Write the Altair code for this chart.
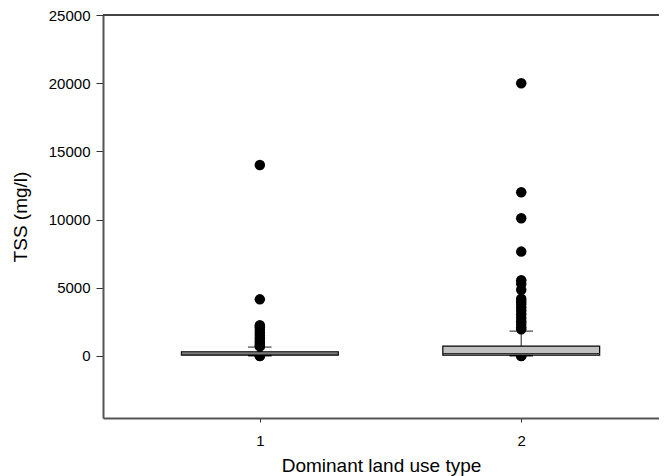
import altair as alt
import pandas as pd

groups = [1, 2]
q1 = [60, 60]
median = [130, 180]
q3 = [300, 720]
whisker_low = [20, 20]
whisker_high = [650, 1820]

outliers_1 = [14000, 4150, 2250, 2100, 1900, 1700, 1500, 1300, 1100, 950, 800, 700, 5, 2]
outliers_2 = [20000, 12000, 10100, 7650, 5550, 5300, 4850, 4200, 4000, 3800, 3550,
              3300, 3050, 2800, 2550, 2350, 2100, 1950, 5, 2]

y_ticks = [0, 5000, 10000, 15000, 20000, 25000]
x_ticks = [1, 2]

W = 556
H = 403
FONT = "Liberation Sans"

box_half = 0.3
cap_half = 0.045

boxes = pd.DataFrame({
    "g": groups, "q1": q1, "med": median, "q3": q3, "lo": whisker_low, "hi": whisker_high,
})
boxes["xl"] = boxes["g"] - box_half
boxes["xr"] = boxes["g"] + box_half
boxes["cl"] = boxes["g"] - cap_half
boxes["cr"] = boxes["g"] + cap_half

pts = pd.DataFrame({
    "g": [1] * len(outliers_1) + [2] * len(outliers_2),
    "v": outliers_1 + outliers_2,
})

xscale = alt.Scale(domain=[0.4, 0.4 + W / 261.4], nice=False, zero=False)
yscale = alt.Scale(domain=[-4550, 25000], nice=False, zero=False)

xaxis = alt.Axis(values=x_ticks, title="Dominant land use type", grid=False,
                 labelFontSize=15, titleFontSize=19, titleFontWeight="normal",
                 labelFont=FONT, titleFont=FONT, labelColor="black", titleColor="black",
                 domainColor="#555555", domainWidth=2, tickColor="#333333", tickSize=4,
                 labelPadding=11, titlePadding=8, format="d")
yaxis = alt.Axis(values=y_ticks, title="TSS (mg/l)", grid=False,
                 labelFontSize=15, titleFontSize=19, titleFontWeight="normal",
                 labelFont=FONT, titleFont=FONT, labelColor="black", titleColor="black",
                 domainColor="#555555", domainWidth=2, tickColor="#333333", tickSize=7,
                 labelPadding=6, titlePadding=18, format="d")

base = alt.Chart(boxes)

# whiskers
wh_up = base.mark_rule(color="#444444", strokeWidth=1.2).encode(
    x=alt.X("g:Q", scale=xscale, axis=xaxis), y=alt.Y("q3:Q", scale=yscale, axis=yaxis), y2="hi:Q")
wh_lo = base.mark_rule(color="#444444", strokeWidth=1.2).encode(x="g:Q", y="lo:Q", y2="q1:Q")
cap_up = base.mark_rule(color="#444444", strokeWidth=1.2).encode(x="cl:Q", x2="cr:Q", y="hi:Q")
cap_lo = base.mark_rule(color="black", strokeWidth=1.5).encode(x="cl:Q", x2="cr:Q", y="lo:Q")

box = base.mark_rect(fill="#c0c0c0", stroke="black", strokeWidth=1.2).encode(
    x="xl:Q", x2="xr:Q", y="q1:Q", y2="q3:Q")
med = base.mark_rule(color="#333333", strokeWidth=1.2).encode(x="xl:Q", x2="xr:Q", y="med:Q")

dots = alt.Chart(pts).mark_circle(size=110, color="black", opacity=1).encode(
    x="g:Q", y="v:Q")

top = alt.Chart(pd.DataFrame({"t": [25000]})).mark_rule(color="#444444", strokeWidth=2).encode(
    y="t:Q", x=alt.value(0), x2=alt.value(W))

chart = alt.layer(wh_up, wh_lo, cap_up, top, dots, box, med, cap_lo).properties(
    width=W, height=H,
    autosize=alt.AutoSizeParams(type="none"),
    padding={"left": 95, "top": 7, "right": 0, "bottom": 58},
).configure_view(stroke=None).configure(background="white")

chart.save("out.html", embed_options={"renderer": "svg", "actions": False})
